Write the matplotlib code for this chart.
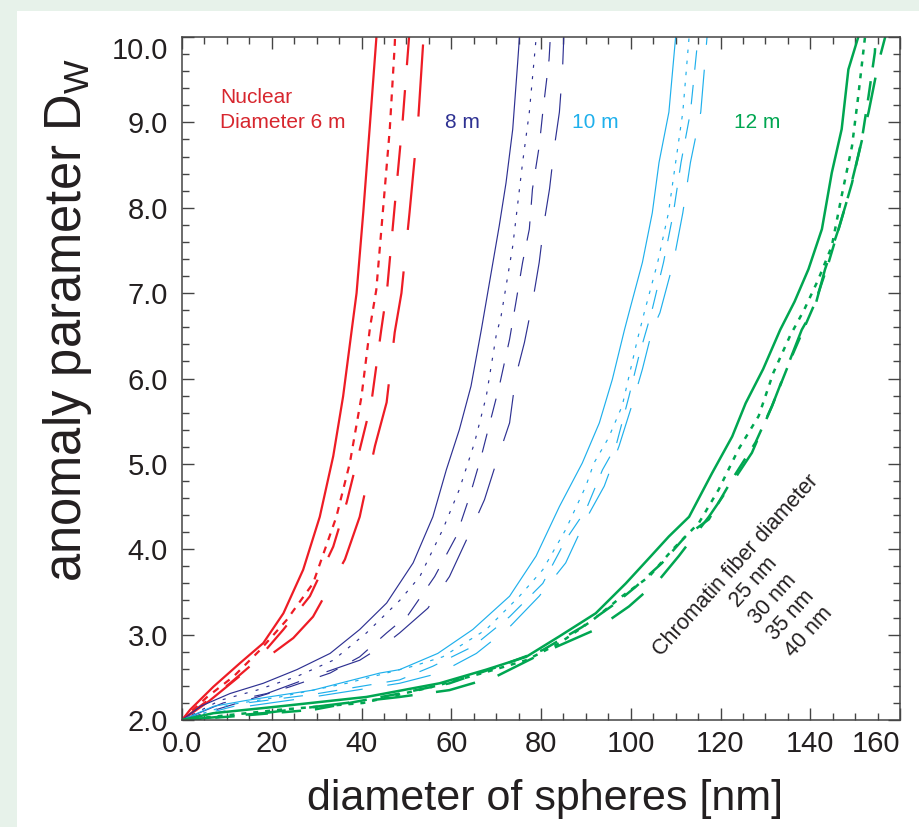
import matplotlib
matplotlib.use("Agg")
import matplotlib.pyplot as plt
from matplotlib.patches import Rectangle
from matplotlib.ticker import FixedLocator, MultipleLocator, FixedFormatter

plt.rcParams['font.family'] = ['Liberation Sans', 'DejaVu Sans']
plt.rcParams['mathtext.fontset'] = 'custom'
plt.rcParams['mathtext.rm'] = 'Liberation Sans'
plt.rcParams['mathtext.it'] = 'Liberation Sans'
plt.rcParams['lines.scale_dashes'] = False

# ---------------- data ----------------
fiber_labels = ["25 nm", "30 nm", "35 nm", "40 nm"]
nuclear_labels = ["Diameter 6 m", "8 m", "10 m", "12 m"]

# nuclear diameter 6 m (red)
x_6_25 = [0, 1.8, 7.0, 13.0, 18.1, 22.6, 27.0, 30.7, 33.7, 35.9, 37.9, 38.9, 40.4, 41.8, 43.3, 43.6]
d_6_25 = [2.0, 2.12, 2.39, 2.67, 2.90, 3.25, 3.76, 4.38, 5.09, 5.79, 6.60, 7.00, 7.95, 8.92, 9.98, 10.3]
x_6_30 = [0, 5.6, 11.5, 17.4, 23.3, 29.2, 34.4, 37.4, 40.0, 41.9, 43.3, 44.8, 46.3, 47.4, 47.7]
d_6_30 = [2.0, 2.27, 2.51, 2.82, 3.17, 3.60, 4.38, 5.01, 5.79, 6.60, 7.04, 7.98, 8.92, 9.90, 10.3]
x_6_35 = [0, 5.0, 10.7, 16.7, 22.6, 28.5, 33.7, 36.7, 40.0, 42.2, 44.4, 45.7, 47.4, 49.2, 50.6, 50.9]
d_6_35 = [2.0, 2.20, 2.43, 2.70, 3.06, 3.45, 4.03, 4.55, 5.25, 5.72, 6.57, 7.04, 8.02, 9.04, 10.0, 10.3]
x_6_40 = [0, 6.0, 13.7, 18.1, 24.8, 29.2, 36.3, 39.6, 43.0, 45.6, 47.4, 48.9, 50.7, 52.6, 53.8, 54.1]
d_6_40 = [2.0, 2.22, 2.55, 2.70, 2.96, 3.21, 3.88, 4.38, 5.21, 5.72, 6.54, 7.00, 7.94, 9.00, 9.98, 10.3]

# nuclear diameter 8 m (navy)
x_8_25 = [0, 4.1, 10.7, 18.1, 25.6, 33.0, 39.6, 45.6, 51.5, 55.9, 58.9, 61.8, 64.4, 66.7, 70.7, 72.2, 73.7, 74.8, 75.2, 75.4]
d_8_25 = [2.0, 2.16, 2.31, 2.43, 2.59, 2.78, 3.06, 3.37, 3.84, 4.38, 4.93, 5.40, 5.91, 6.57, 7.79, 8.29, 8.92, 9.70, 10.0, 10.3]
x_8_30 = [0, 8.5, 16.7, 25.6, 33.7, 41.1, 48.5, 53.0, 58.1, 61.8, 65.2, 67.8, 70.0, 71.1, 73.7, 75.9, 77.4, 78.9, 79.2]
d_8_30 = [2.0, 2.23, 2.35, 2.51, 2.70, 3.02, 3.40, 3.68, 4.23, 4.70, 5.25, 5.79, 6.50, 6.73, 7.55, 8.53, 9.12, 9.98, 10.3]
x_8_35 = [0, 14.4, 24.1, 33.0, 39.6, 45.6, 50.4, 56.3, 61.1, 64.1, 66.7, 70.7, 73.0, 74.4, 75.9, 77.4, 78.1, 79.6, 80.4, 81.8, 82.4]
d_8_35 = [2.0, 2.23, 2.39, 2.55, 2.74, 3.02, 3.23, 3.68, 4.15, 4.62, 5.09, 5.91, 6.46, 6.89, 7.36, 7.75, 8.22, 8.72, 9.12, 9.74, 10.3]
x_8_40 = [0, 9.2, 18.9, 29.2, 39.6, 45.6, 48.5, 54.8, 59.6, 64.1, 67.4, 70.0, 73.0, 74.4, 76.3, 78.1, 79.6, 80.7, 81.9, 83.0, 84.1, 84.8, 85.3]
d_8_40 = [2.0, 2.20, 2.31, 2.51, 2.70, 2.90, 3.02, 3.31, 3.68, 4.19, 4.58, 5.01, 5.48, 6.03, 6.42, 6.89, 7.36, 7.83, 8.22, 8.72, 9.12, 9.62, 10.3]

# nuclear diameter 10 m (light blue)
x_10_25 = [0, 7.0, 14.4, 29.2, 44.1, 48.5, 57.0, 64.8, 73.0, 78.9, 84.1, 89.2, 93.0, 95.9, 98.6, 99.6, 102.6, 104.8, 106.3, 108.5, 110.0, 110.3]
d_10_25 = [2.0, 2.16, 2.23, 2.35, 2.55, 2.59, 2.78, 3.06, 3.45, 3.92, 4.50, 5.01, 5.48, 5.99, 6.57, 6.77, 7.36, 7.94, 8.53, 9.12, 10.0, 10.3]
x_10_30 = [0, 10.7, 21.8, 36.7, 51.5, 58.1, 67.8, 75.2, 80.4, 85.5, 90.0, 91.8, 95.0, 98.1, 101.5, 103.0, 106.0, 108.4, 110.0, 111.6, 113.0, 113.3]
d_10_30 = [2.0, 2.18, 2.27, 2.43, 2.63, 2.74, 3.06, 3.45, 3.76, 4.23, 4.74, 5.01, 5.30, 5.68, 6.46, 6.77, 7.36, 7.94, 8.53, 9.12, 10.0, 10.3]
x_10_35 = [0, 14.4, 29.2, 48.5, 55.9, 64.8, 73.0, 80.4, 85.5, 90.0, 93.7, 96.7, 99.6, 101.8, 104.6, 107.3, 109.5, 111.2, 113.3, 115.0, 115.3]
d_10_35 = [2.0, 2.20, 2.30, 2.47, 2.63, 2.86, 3.21, 3.60, 4.11, 4.46, 4.93, 5.21, 5.79, 6.26, 6.77, 7.36, 7.94, 8.53, 9.12, 10.0, 10.3]
x_10_40 = [0, 14.4, 29.2, 48.5, 57.4, 65.6, 73.0, 79.6, 85.5, 90.0, 94.1, 97.4, 100.4, 102.6, 104.8, 106.5, 109.5, 111.6, 113.3, 115.6, 117.0, 117.3]
d_10_40 = [2.0, 2.16, 2.27, 2.43, 2.55, 2.78, 3.09, 3.45, 3.84, 4.35, 4.74, 5.21, 5.71, 6.11, 6.57, 6.77, 7.36, 7.94, 8.53, 9.12, 10.0, 10.3]

# nuclear diameter 12 m (green)
x_12_25 = [0, 7.0, 21.8, 41.1, 57.4, 67.8, 76.7, 84.1, 92.2, 98.9, 104.5, 108.5, 113.0, 118.1, 122.6, 125.6, 129.5, 133.3, 136.5, 139.6, 142.6, 144.8, 147.0, 148.5, 150.7, 151.2]
d_12_25 = [2.0, 2.08, 2.16, 2.27, 2.43, 2.59, 2.74, 2.98, 3.25, 3.60, 3.92, 4.15, 4.38, 4.89, 5.32, 5.71, 6.11, 6.57, 6.90, 7.28, 7.75, 8.41, 8.92, 9.62, 10.0, 10.3]
x_12_30 = [0, 21.8, 40.4, 55.9, 67.0, 76.7, 84.1, 91.5, 98.1, 104.1, 109.2, 115.2, 119.6, 124.0, 128.5, 131.8, 135.5, 138.6, 141.8, 144.8, 147.0, 149.3, 150.7, 152.2, 152.5]
d_12_30 = [2.0, 2.12, 2.20, 2.39, 2.55, 2.70, 2.90, 3.17, 3.45, 3.68, 3.99, 4.31, 4.70, 5.17, 5.56, 6.07, 6.50, 6.80, 7.16, 7.55, 8.14, 8.72, 9.31, 10.0, 10.3]
x_12_35 = [0, 10.7, 29.2, 48.5, 59.6, 70.7, 80.4, 89.2, 96.7, 101.1, 107.0, 112.2, 117.4, 122.6, 127.8, 131.5, 135.9, 141.1, 144.1, 147.0, 149.3, 151.5, 153.0, 154.4, 154.9]
d_12_35 = [2.0, 2.04, 2.12, 2.31, 2.43, 2.63, 2.82, 3.09, 3.37, 3.56, 3.84, 4.15, 4.35, 4.82, 5.25, 5.68, 6.26, 6.89, 7.36, 7.87, 8.29, 8.80, 9.31, 9.82, 10.3]
x_12_40 = [0, 18.1, 36.7, 48.5, 59.6, 70.0, 81.8, 92.2, 99.6, 106.3, 110.7, 117.4, 122.6, 127.0, 131.5, 135.2, 138.1, 141.1, 143.3, 146.3, 148.5, 150.7, 153.0, 155.2, 156.7, 157.0]
d_12_40 = [2.0, 2.08, 2.20, 2.27, 2.35, 2.51, 2.82, 3.06, 3.33, 3.64, 3.92, 4.38, 4.78, 5.13, 5.68, 6.18, 6.57, 6.85, 7.28, 7.75, 8.14, 8.61, 9.12, 9.70, 10.0, 10.3]

x_ticks = [0, 20, 40, 60, 80, 100, 120, 140, 160]
x_tick_labels = ["0.0", "20", "40", "60", "80", "100", "120", "140", "160"]
y_ticks = [2, 3, 4, 5, 6, 7, 8, 9, 10]
y_tick_labels = ["2.0", "3.0", "4.0", "5.0", "6.0", "7.0", "8.0", "9.0", "10.0"]

# ---------------- styles ----------------
groups = [
    dict(color="#ee1c25", lw=1.6, curves=[(x_6_25, d_6_25), (x_6_30, d_6_30), (x_6_35, d_6_35), (x_6_40, d_6_40)],
         dashes=[None, (5, 5), (22, 18), (52, 30)]),
    dict(color="#2e3192", lw=0.85, curves=[(x_8_25, d_8_25), (x_8_30, d_8_30), (x_8_35, d_8_35), (x_8_40, d_8_40)],
         dashes=[None, (2.2, 6), (14, 12), (34, 21)]),
    dict(color="#1fb0ec", lw=0.85, curves=[(x_10_25, d_10_25), (x_10_30, d_10_30), (x_10_35, d_10_35), (x_10_40, d_10_40)],
         dashes=[None, (2.5, 5.5), (14, 11), (32, 18)]),
    dict(color="#00a651", lw=1.8, curves=[(x_12_25, d_12_25), (x_12_30, d_12_30), (x_12_35, d_12_35), (x_12_40, d_12_40)],
         dashes=[None, (3.6, 5), (14, 10), (29, 17)]),
]

TXT = "#231f20"
fig = plt.figure(figsize=(9.2, 8.27), dpi=100, facecolor="#e7f2ea")
panel = Rectangle((17 / 920, 0), 1 - 17 / 920, (827 - 11) / 827,
                  transform=fig.transFigure, facecolor="white", edgecolor="none", zorder=-10)
fig.patches.append(panel)

ax = fig.add_axes([182 / 920, (827 - 720) / 827, (900 - 182) / 920, (720 - 37) / 827])
ax.set_zorder(5)
ax.set_facecolor("white")

for g in groups:
    for (xs, ds), dsh in zip(g["curves"], g["dashes"]):
        ln, = ax.plot(xs, ds, color=g["color"], lw=g["lw"], solid_capstyle="butt", dash_capstyle="butt")
        if dsh is not None:
            ln.set_dashes(dsh)

ax.set_xlim(0, 160)
ax.set_ylim(2.0, 10.0)
ax.xaxis.set_major_locator(FixedLocator(x_ticks))
ax.xaxis.set_major_formatter(FixedFormatter(x_tick_labels))
ax.yaxis.set_major_locator(FixedLocator(y_ticks))
ax.yaxis.set_major_formatter(FixedFormatter(y_tick_labels))
ax.xaxis.set_minor_locator(MultipleLocator(5))
ax.yaxis.set_minor_locator(MultipleLocator(0.2))

for sp in ax.spines.values():
    sp.set_color("#444444")
    sp.set_linewidth(1.1)
ax.tick_params(which="both", direction="in", top=True, right=True, color="#444444", width=1.0)
ax.tick_params(which="major", length=8.5)
ax.tick_params(which="minor", length=5)
ax.tick_params(axis="x", which="major", labelsize=21, labelcolor=TXT, pad=7)
ax.tick_params(axis="y", which="major", labelsize=21, labelcolor=TXT, pad=10)

# keep end labels inside like the original
ax.yaxis.get_major_ticks()[-1].label1.set_verticalalignment("top")
ax.xaxis.get_major_ticks()[-1].label1.set_horizontalalignment("right")

ax.set_xlabel("diameter of spheres [nm]", fontsize=31, color=TXT)
ax.xaxis.set_label_coords(0.5056, -0.087)
ax.set_ylabel(r"anomaly parameter D$_{\mathrm{W}}$", fontsize=36.5, color=TXT)
ax.yaxis.set_label_coords(-0.122, 0.586)

# group annotations
ax.text(8.5, 9.23, "Nuclear", color="#d7262e", fontsize=15, ha="left", va="baseline")
ax.text(8.5, 8.93, nuclear_labels[0], color="#d7262e", fontsize=15, ha="left", va="baseline")
ax.text(58.5, 8.93, nuclear_labels[1], color="#2e3192", fontsize=15, ha="left", va="baseline")
ax.text(86.9, 8.93, nuclear_labels[2], color="#1fb0ec", fontsize=15, ha="left", va="baseline")
ax.text(122.9, 8.93, nuclear_labels[3], color="#00a651", fontsize=15, ha="left", va="baseline")

ax.text(131.6, 3.42, "Chromatin fiber diameter\n" + "\n".join(fiber_labels), color=TXT,
        fontsize=15.5, rotation=48, rotation_mode="anchor", ha="center", va="center",
        multialignment="center", linespacing=1.22)

fig.savefig("out.png", dpi=100, facecolor=fig.get_facecolor())
